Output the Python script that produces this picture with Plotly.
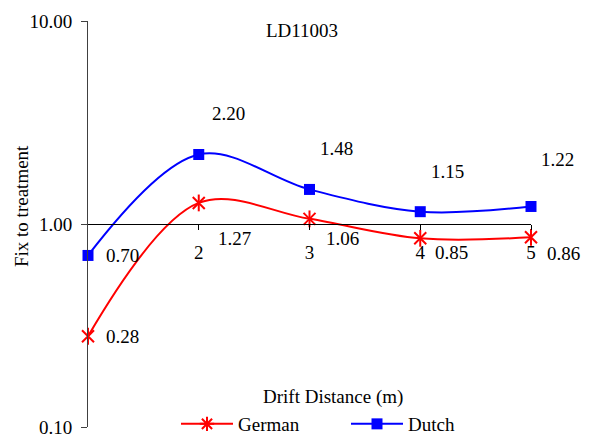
import numpy as np
import plotly.graph_objects as go

# ---- data ----
distance = [1, 2, 3, 4, 5]
german = [0.28, 1.27, 1.06, 0.85, 0.86]
dutch = [0.70, 2.20, 1.48, 1.15, 1.22]
x_tick_vals = [2, 3, 4, 5]
y_tick_vals = [0.1, 1, 10]
y_tick_text = ["0.10", "1.00", "10.00"]
title_text = "LD11003"
x_title = "Drift Distance (m)"
y_title = "Fix to treatment"

# ---- style ----
FONT = "'Liberation Serif', 'Times New Roman', serif"
FS = 19
RED = "#FF0000"
BLUE = "#0000FF"
W, H = 589, 439
ML, MR, MT, MB = 88, 58, 21, 12
PW, PH = W - ML - MR, H - MT - MB

# label pixel offsets (style)
dutch_off = [(34, 0), (30, 41), (27, 41), (27, 40), (26, 47)]
german_off = [(34, 0), (36, -36), (33, -20), (31, -14), (32, -16)]

def px2paper_x(px):
    return (px - ML) / PW

def px2paper_y(py):
    return (H - MB - py) / PH

fig = go.Figure()

# German: smoothed line with star markers (X + vertical stroke)
fig.add_trace(go.Scatter(
    x=distance, y=german, name="German", mode="lines+markers", legendgroup="g",
    showlegend=False,
    line=dict(color=RED, width=2, shape="spline"),
    marker=dict(symbol="x-thin-open", size=12, color=RED, line=dict(color=RED, width=2)),
    cliponaxis=False,
))
fig.add_trace(go.Scatter(
    x=distance, y=german, name="German", mode="markers", legendgroup="g",
    showlegend=False,
    marker=dict(symbol="line-ns-open", size=12, color=RED, line=dict(color=RED, width=2)),
    cliponaxis=False,
))
# legend entry for German
fig.add_trace(go.Scatter(
    x=[None], y=[None], name="German", mode="lines+markers", legendgroup="g",
    line=dict(color=RED, width=2),
    marker=dict(symbol="asterisk-open", size=12, color=RED, line=dict(color=RED, width=2)),
))
fig.add_trace(go.Scatter(
    x=distance, y=dutch, name="Dutch", mode="lines+markers",
    line=dict(color=BLUE, width=2, shape="spline"),
    marker=dict(symbol="square", size=11, color=BLUE),
    cliponaxis=False,
))

annotations = []
for xv, yv, (dx, dy) in zip(distance, dutch, dutch_off):
    annotations.append(dict(x=xv, y=np.log10(yv), xref="x", yref="y", text=f"{yv:.2f}",
                            showarrow=False, xshift=dx, yshift=dy,
                            xanchor="center", yanchor="middle",
                            font=dict(family=FONT, size=FS, color="black")))
for xv, yv, (dx, dy) in zip(distance, german, german_off):
    annotations.append(dict(x=xv, y=np.log10(yv), xref="x", yref="y", text=f"{yv:.2f}",
                            showarrow=False, xshift=dx, yshift=dy,
                            xanchor="center", yanchor="middle",
                            font=dict(family=FONT, size=FS, color="black")))

annotations.append(dict(x=px2paper_x(302), y=px2paper_y(31), xref="paper", yref="paper",
                        text=title_text, showarrow=False, xanchor="center", yanchor="middle",
                        font=dict(family=FONT, size=FS, color="black")))
annotations.append(dict(x=px2paper_x(333), y=px2paper_y(397), xref="paper", yref="paper",
                        text=x_title, showarrow=False, xanchor="center", yanchor="middle",
                        font=dict(family=FONT, size=FS, color="black")))
annotations.append(dict(x=px2paper_x(21), y=px2paper_y(206), xref="paper", yref="paper",
                        text=y_title, showarrow=False, textangle=-90,
                        xanchor="center", yanchor="middle",
                        font=dict(family=FONT, size=FS, color="black")))

fig.update_layout(
    width=W, height=H,
    margin=dict(l=ML, r=MR, t=MT, b=MB, autoexpand=False),
    paper_bgcolor="white", plot_bgcolor="white",
    font=dict(family=FONT, size=FS, color="black"),
    showlegend=True,
    legend=dict(orientation="h", x=px2paper_x(176), xanchor="left",
                y=px2paper_y(424), yanchor="middle", traceorder="normal",
                bgcolor="rgba(0,0,0,0)", entrywidth=103, itemwidth=52,
                font=dict(family=FONT, size=FS, color="black")),
    annotations=annotations,
    xaxis=dict(range=[1, 5], tickvals=x_tick_vals, ticks="outside", ticklen=5,
               tickcolor="black", showline=True, linecolor="black", linewidth=1,
               showgrid=False, zeroline=False, anchor="free", position=0.5,
               ticklabelstandoff=6,
               tickfont=dict(family=FONT, size=FS, color="black")),
    yaxis=dict(type="log", range=[-1, 1], tickvals=y_tick_vals, ticktext=y_tick_text,
               ticks="outside", ticklen=6, tickcolor="#404040", showline=True,
               linecolor="#404040", linewidth=1, showgrid=False, zeroline=False,
               ticklabelstandoff=5,
               tickfont=dict(family=FONT, size=FS, color="black")),
)

fig.write_html("out.html")
